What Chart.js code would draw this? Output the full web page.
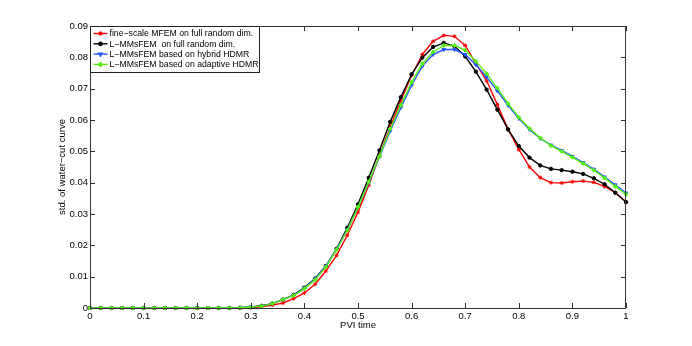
<!DOCTYPE html>
<html>
<head>
<meta charset="utf-8">
<script src="https://cdn.jsdelivr.net/npm/chart.js@4.4.0/dist/chart.umd.min.js"></script>
<style>
  html, body { margin: 0; padding: 0; background: #fff; }
  #wrap { width: 692px; height: 346px; position: relative; }
</style>
</head>
<body>
<div id="wrap"><canvas id="chart" width="692" height="346"></canvas></div>
<script>
// PVI time samples
const pviTime = [
  0, 0.02, 0.04, 0.06, 0.08, 0.10, 0.12, 0.14, 0.16, 0.18,
  0.20, 0.22, 0.24, 0.26, 0.28, 0.30, 0.32, 0.34, 0.36, 0.38,
  0.40, 0.42, 0.44, 0.46, 0.48, 0.50, 0.52, 0.54, 0.56, 0.58,
  0.60, 0.62, 0.64, 0.66, 0.68, 0.70, 0.72, 0.74, 0.76, 0.78,
  0.80, 0.82, 0.84, 0.86, 0.88, 0.90, 0.92, 0.94, 0.96, 0.98, 1.00
];

const fineMFEM = [
  0, 0, 0, 0, 0, 0, 0, 0, 0, 0,
  0, 0, 0, 0, 0, 0.0001, 0.0004, 0.0009, 0.0016, 0.0030,
  0.0048, 0.0076, 0.0118, 0.0168, 0.0232, 0.0306, 0.0392, 0.0486, 0.0578, 0.0662,
  0.0742, 0.0809, 0.0851, 0.0870, 0.0867, 0.0838, 0.0780, 0.0725, 0.0649, 0.0570,
  0.0506, 0.0450, 0.0416, 0.0400, 0.0399, 0.0403, 0.0405, 0.0401, 0.0388, 0.0368, 0.0338
];

const lmmsFull = [
  0, 0, 0, 0, 0, 0, 0, 0, 0, 0,
  0, 0, 0, 0, 0.0001, 0.0003, 0.0007, 0.0014, 0.0027, 0.0042,
  0.0065, 0.0094, 0.0134, 0.0189, 0.0256, 0.0331, 0.0416, 0.0503, 0.0594, 0.0673,
  0.0746, 0.0799, 0.0833, 0.0846, 0.0836, 0.0803, 0.0754, 0.0697, 0.0633, 0.0570,
  0.0517, 0.0480, 0.0455, 0.0444, 0.0440, 0.0435, 0.0428, 0.0414, 0.0395, 0.0368, 0.0338
];

const lmmsHybrid = [
  0, 0, 0, 0, 0, 0, 0, 0, 0, 0,
  0, 0, 0, 0, 0.0001, 0.0003, 0.0006, 0.0014, 0.0027, 0.0041,
  0.0063, 0.0093, 0.0134, 0.0187, 0.0250, 0.0322, 0.0400, 0.0482, 0.0565, 0.0640,
  0.0711, 0.0772, 0.0809, 0.0825, 0.0825, 0.0809, 0.0776, 0.0737, 0.0693, 0.0647,
  0.0605, 0.0570, 0.0541, 0.0520, 0.0503, 0.0484, 0.0464, 0.0443, 0.0418, 0.0393, 0.0367
];

const lmmsAdaptive = [
  0, 0, 0, 0, 0, 0, 0, 0, 0, 0,
  0, 0, 0, 0, 0.0001, 0.0003, 0.0006, 0.0014, 0.0027, 0.0040,
  0.0062, 0.0090, 0.0131, 0.0186, 0.0248, 0.0322, 0.0403, 0.0484, 0.0571, 0.0647,
  0.0721, 0.0780, 0.0817, 0.0838, 0.0838, 0.0823, 0.0787, 0.0748, 0.0702, 0.0652,
  0.0608, 0.0573, 0.0543, 0.0518, 0.0500, 0.0481, 0.0461, 0.0440, 0.0415, 0.0388, 0.0363
];

const seriesLabels = [
  "fine\u2212scale MFEM on full random dim.",
  "L\u2212MMsFEM  on full random dim.",
  "L\u2212MMsFEM based on hybrid HDMR",
  "L\u2212MMsFEM based on adaptive HDMR"
];
const seriesColors = ["#ff0000", "#000000", "#2255ff", "#55ee11"];
const seriesMarkers = ["star", "circle", "triangle", "rectRot"];

const FONT = "'Liberation Sans', Arial, Helvetica, sans-serif";

function toPoints(ys) {
  return pviTime.map((x, i) => ({ x: x, y: ys[i] }));
}

const allSeries = [fineMFEM, lmmsFull, lmmsHybrid, lmmsAdaptive];

const datasets = allSeries.map((ys, i) => ({
  label: seriesLabels[i],
  data: toPoints(ys),
  borderColor: seriesColors[i],
  backgroundColor: seriesColors[i],
  borderWidth: 1.4,
  pointStyle: seriesMarkers[i],
  pointRotation: seriesMarkers[i] === "triangle" ? 180 : 0,
  pointRadius: seriesMarkers[i] === "circle" ? 1.7 : 2,
  pointBorderWidth: 1,
  tension: 0,
  clip: false,
  order: 4 - i
}));

// MATLAB-like box with inward ticks and an in-plot legend
const matlabAxes = {
  id: "matlabAxes",
  afterDatasetsDraw(chart) {
    const { ctx, chartArea: a, scales } = chart;
    const xs = scales.x, ys = scales.y;
    ctx.save();
    ctx.strokeStyle = "#333";
    ctx.lineWidth = 1;
    ctx.strokeRect(a.left + 0.5, a.top + 0.5, a.right - a.left - 1, a.bottom - a.top);
    ctx.beginPath();
    const tl = 5;
    xs.ticks.forEach(t => {
      const px = Math.round(xs.getPixelForValue(t.value)) + 0.5;
      ctx.moveTo(px, a.bottom); ctx.lineTo(px, a.bottom - tl);
      ctx.moveTo(px, a.top); ctx.lineTo(px, a.top + tl);
    });
    ys.ticks.forEach(t => {
      const py = Math.round(ys.getPixelForValue(t.value)) + 0.5;
      ctx.moveTo(a.left, py); ctx.lineTo(a.left + tl, py);
      ctx.moveTo(a.right, py); ctx.lineTo(a.right - tl, py);
    });
    ctx.stroke();

    // legend box
    const bx = a.left + 0.5, by = a.top + 0.5, bw = 169, bh = 46;
    ctx.fillStyle = "#fff";
    ctx.fillRect(bx, by, bw, bh);
    ctx.strokeStyle = "#222";
    ctx.strokeRect(bx, by, bw, bh);
    ctx.font = "8.7px " + FONT;
    ctx.textBaseline = "middle";
    ctx.textAlign = "left";
    chart.data.datasets.forEach((ds, i) => {
      const ry = by + 7 + i * 10.3;
      ctx.strokeStyle = ds.borderColor;
      ctx.lineWidth = 1.4;
      ctx.beginPath();
      ctx.moveTo(bx + 3, ry); ctx.lineTo(bx + 17, ry);
      ctx.stroke();
      ctx.fillStyle = ds.borderColor;
      Chart.helpers.drawPoint(ctx, {
        pointStyle: ds.pointStyle, rotation: ds.pointRotation,
        radius: ds.pointRadius, borderWidth: 1
      }, bx + 10, ry);
      ctx.fillStyle = "#000";
      ctx.fillText(ds.label, bx + 19, ry + 0.5);
    });
    ctx.restore();
  }
};

new Chart(document.getElementById("chart"), {
  type: "line",
  data: { datasets },
  plugins: [matlabAxes],
  options: {
    responsive: false,
    animation: false,
    layout: { padding: { top: 26, right: 66, bottom: 0, left: 0 } },
    plugins: {
      legend: { display: false },
      tooltip: { enabled: false }
    },
    scales: {
      x: {
        type: "linear",
        min: 0,
        max: 1,
        grid: { display: false, drawTicks: false },
        border: { display: false },
        ticks: {
          stepSize: 0.1,
          padding: 3,
          color: "#000",
          font: { family: FONT, size: 9.5 },
          maxRotation: 0,
          callback: v => String(Number(v.toFixed(1)))
        },
        title: {
          display: true,
          text: "PVI time",
          color: "#000",
          font: { family: FONT, size: 9.5 },
          padding: { top: 0, bottom: 15 }
        },
        afterFit: s => { s.height = 38; }
      },
      y: {
        min: 0,
        max: 0.09,
        grid: { display: false, drawTicks: false },
        border: { display: false },
        ticks: {
          stepSize: 0.01,
          padding: 2,
          color: "#000",
          font: { family: FONT, size: 9.5 },
          callback: v => (v === 0 ? "0" : v.toFixed(2))
        },
        title: {
          display: true,
          text: "std. of water\u2212cut curve",
          color: "#000",
          font: { family: FONT, size: 9.5 },
          padding: { top: 57, bottom: 0 }
        },
        afterFit: s => { s.width = 90; }
      }
    }
  }
});
</script>
</body>
</html>
